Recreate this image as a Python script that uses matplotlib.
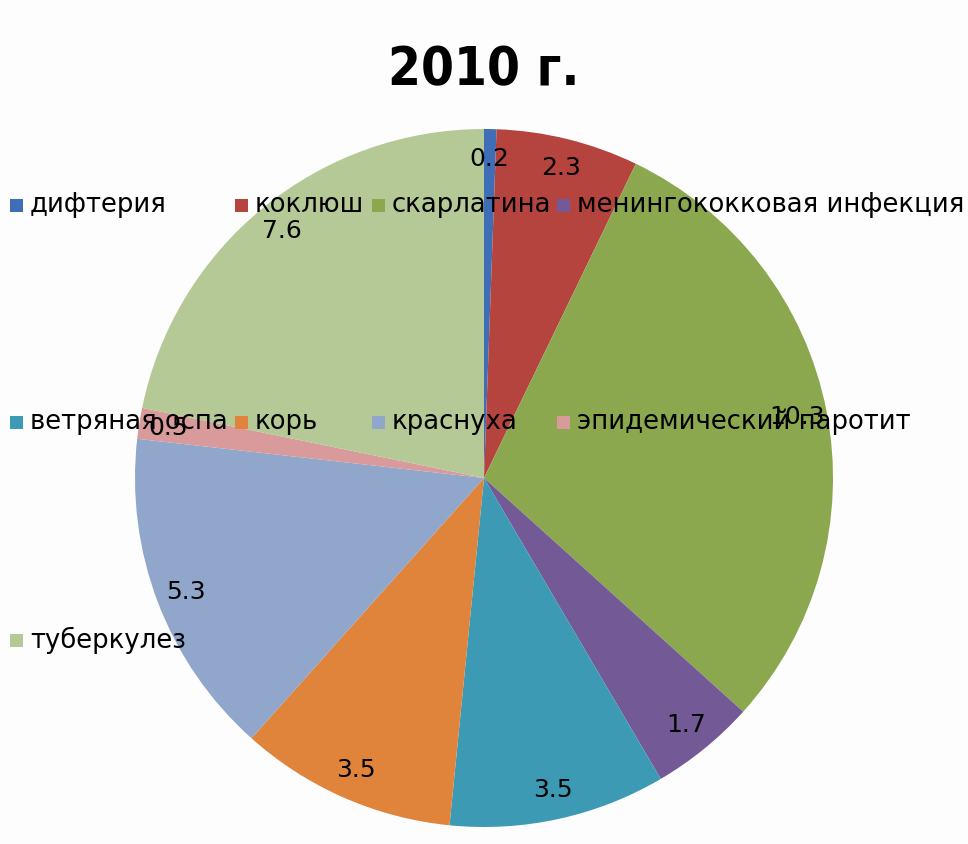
import matplotlib
matplotlib.use("Agg")
import matplotlib.pyplot as plt
from matplotlib.patches import Rectangle

plt.rcParams['font.family'] = ['DejaVu Sans']

categories = ["дифтерия", "коклюш", "скарлатина", "менингококковая инфекция",
              "ветряная оспа", "корь", "краснуха", "эпидемический паротит",
              "туберкулез"]
values = [0.2, 2.3, 10.3, 1.7, 3.5, 3.5, 5.3, 0.5, 7.6]
colors = ["#3E6FB6", "#B5443F", "#8BA84F", "#735A97", "#3C9AB4",
          "#E0843C", "#91A6CB", "#D89A9A", "#B5C996"]
title = "2010 г."

W, H = 968, 844
fig = plt.figure(figsize=(W / 100, H / 100), dpi=100)
fig.patch.set_facecolor("#FDFDFD")

cx, cy, r = 484, 478, 349
ax = fig.add_axes([(cx - r) / W, (H - cy - r) / H, 2 * r / W, 2 * r / H])

total = sum(values)
wedges, texts, autotexts = ax.pie(
    values, colors=colors, startangle=90, counterclock=False,
    autopct=lambda p: f"{p * total / 100:.1f}", pctdistance=0.915,
    wedgeprops=dict(linewidth=0),
    textprops=dict(fontsize=18, color="black"))
ax.set_xlim(-1, 1)
ax.set_ylim(-1, 1)
ax.set_axis_off()

fig.text(0.5, 1 - 70 / H, title, ha="center", va="center",
         fontsize=38, fontweight="bold", fontstretch="condensed",
         family="DejaVu Sans")

# legend drawn as overlay (Excel-like flow layout)
col_x = [10, 235, 372, 557]
row_y = [205, 422, 640]
sq = 13
for i, (lab, col) in enumerate(zip(categories, colors)):
    rr, cc = divmod(i, 4)
    x = col_x[cc]
    y = row_y[rr]
    fig.patches.append(Rectangle((x / W, (H - y - sq / 2) / H), sq / W, sq / H,
                                 transform=fig.transFigure, facecolor=col,
                                 edgecolor="none", zorder=5))
    fig.text((x + 20) / W, (H - y) / H, lab, ha="left", va="center",
             fontsize=18.6, color="black", zorder=6)

fig.savefig("out.png", dpi=100, facecolor=fig.get_facecolor())
